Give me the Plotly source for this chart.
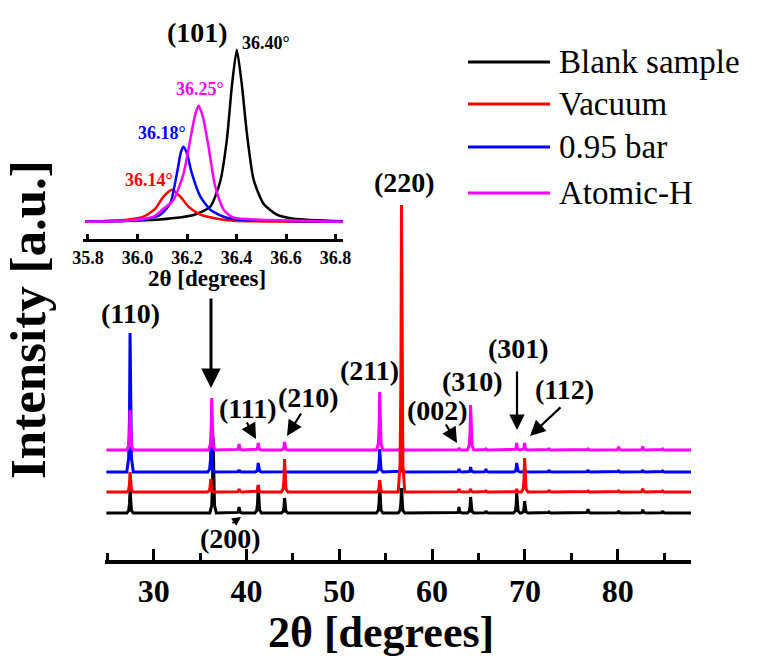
import plotly.graph_objects as go

W, H = 757, 657
FONT = "Liberation Serif"

# ---------------- data ----------------
SERIES = ["Blank sample", "Vacuum", "0.95 bar", "Atomic-H"]
COLORS = ["#000000", "#ff0000", "#0000ff", "#ff00ff"]

# main XRD pattern: peak positions (2theta, deg); the (101) peak position differs per series
PEAK_POS = [27.45, 36.40, 39.2, 41.26, 44.1, 54.35, 56.7, 62.9, 64.15, 65.8,
            69.12, 69.97, 72.6, 76.8, 80.1, 82.7, 84.85]
PEAK_101 = [36.40, 36.14, 36.18, 36.25]

# peak intensities (a.u.) per series, same order as PEAK_POS
I_BLANK = [24, 76, 6, 28, 15, 27, 25, 6, 16, 2, 20, 12, 1, 4, 2, 3.3, 2]
I_VACUUM = [20, 13, 3, 7, 33, 12, 287, 3, 3, 1, 3, 34, 2, 1, 1, 3.3, 1]
I_095BAR = [139, 30, 2, 9, 2, 23, 7, 3, 5, 3, 9, 3, 2, 2, 1, 2, 1]
I_ATOMH = [40, 52, 6, 7, 8, 58, 12, 2, 45, 1, 7, 7, 1, 1, 3.3, 3.5, 1]
INTENS = [I_BLANK, I_VACUUM, I_095BAR, I_ATOMH]
OFFSETS = [47, 68, 88, 110]          # vertical stacking of the patterns
X_START, X_END = 24.9, 87.9

# inset: (101) peak profiles
IN_X_BLANK = [35.79, 35.95, 36.09, 36.227, 36.294, 36.334, 36.361, 36.381, 36.401,
              36.421, 36.442, 36.469, 36.509, 36.563, 36.63, 36.83]
IN_Y_BLANK = [0, 1, 2.3, 6.7, 15, 40, 82, 135, 172, 138, 88, 42, 18, 7, 3, 0.5]
IN_X_VAC = [35.79, 35.957, 36.025, 36.072, 36.105, 36.139, 36.173, 36.206, 36.254,
            36.321, 36.388, 36.83]
IN_Y_VAC = [0, 2, 5, 13, 25, 32, 25, 15, 7, 3, 1, 0]
IN_X_095 = [35.79, 36.025, 36.092, 36.132, 36.159, 36.176, 36.186, 36.2, 36.22,
            36.254, 36.294, 36.348, 36.415, 36.83]
IN_Y_095 = [0, 2, 7, 18, 48, 70, 75, 68, 48, 25, 12, 5, 2, 0]
IN_X_ATH = [35.79, 35.957, 36.065, 36.105, 36.146, 36.186, 36.213, 36.233, 36.247,
            36.264, 36.287, 36.314, 36.348, 36.388, 36.496, 36.83]
IN_Y_ATH = [0, 1, 5, 13, 22, 48, 82, 107, 116, 105, 75, 35, 12, 4, 2, 0]
IN_X = [IN_X_BLANK, IN_X_VAC, IN_X_095, IN_X_ATH]
IN_Y = [IN_Y_BLANK, IN_Y_VAC, IN_Y_095, IN_Y_ATH]
IN_BASE = 17.3
IN_LABELS = ["36.40°", "36.14°", "36.18°", "36.25°"]

MAIN_TICKS = [30, 40, 50, 60, 70, 80]
MAIN_MINOR = [25, 35, 45, 55, 65, 75, 85]
INSET_TICKS = [35.8, 36.0, 36.2, 36.4, 36.6, 36.8]

# peak shape template (style)
PROF_DX = [-0.35, -0.15, -0.06, 0.0, 0.06, 0.15, 0.35]
PROF_F = [0.0, 0.1, 0.4, 1.0, 0.4, 0.1, 0.0]

AXIS_PX = 560   # pixel row of the main plot-area bottom


def P(px, py):
    return px / W, (H - py) / H


def pattern(si):
    pos = list(PEAK_POS)
    pos[1] = PEAK_101[si]
    pk = sorted(zip(pos, INTENS[si]))
    xs, ys = [X_START], [OFFSETS[si]]
    for p, h in pk:
        for dx, f in zip(PROF_DX, PROF_F):
            xs.append(p + dx)
            ys.append(OFFSETS[si] + h * f)
    xs.append(X_END)
    ys.append(OFFSETS[si])
    return xs, ys


fig = go.Figure()

for si in [0, 2, 3, 1]:
    xs, ys = pattern(si)
    fig.add_trace(go.Scatter(x=xs, y=ys, mode="lines", name=SERIES[si],
                             line=dict(color=COLORS[si], width=3),
                             xaxis="x", yaxis="y", showlegend=False))

for si in [0, 1, 2, 3]:
    fig.add_trace(go.Scatter(x=IN_X[si], y=[IN_BASE + v for v in IN_Y[si]],
                             mode="lines", line=dict(color=COLORS[si], width=2.5,
                                                     shape="spline", smoothing=0.6),
                             xaxis="x2", yaxis="y2", showlegend=False))

ann = []


def text(t, px, py, size, color="black", bold=True, xanchor="center", angle=0):
    x, y = P(px, py)
    ann.append(dict(text=t, x=x, y=y, xref="paper", yref="paper", showarrow=False,
                    xanchor=xanchor, yanchor="middle", textangle=angle,
                    font=dict(family=FONT, size=size, color=color,
                              weight="bold" if bold else "normal")))


def arrow(tx, ty, hx, hy, width=2.2, size=1.4):
    x, y = P(hx, hy)
    ann.append(dict(text="", x=x, y=y, xref="paper", yref="paper", showarrow=True,
                    ax=tx - hx, ay=ty - hy, arrowhead=2, arrowsize=size,
                    arrowwidth=width, arrowcolor="black"))


# main peak labels
LBL = 28
text("(110)", 130, 313, LBL)
text("(111)", 248, 408, LBL)
text("(210)", 308, 397, LBL)
text("(211)", 369, 370, LBL)
text("(200)", 230, 538, LBL)
text("(220)", 405, 182, LBL)
text("(002)", 437, 410, LBL)
text("(310)", 472, 381, LBL)
text("(301)", 518, 348, LBL)
text("(112)", 564, 389, LBL)
arrow(211, 297, 211, 388, width=3, size=1.3)
arrow(246, 421, 256, 439)
arrow(302, 412, 287, 436)
arrow(231, 524, 241, 517, width=1.8, size=1.0)
arrow(445, 423, 457, 443)
arrow(517, 370, 517, 430)
arrow(562, 406, 530, 436)

# inset labels
text("(101)", 197, 32, 28)
text(IN_LABELS[0], 266, 43, 18, COLORS[0])
text(IN_LABELS[3], 200, 89, 18, COLORS[3])
text(IN_LABELS[2], 162, 133, 18, COLORS[2])
text(IN_LABELS[1], 149, 180, 18, COLORS[1])
text("2θ [degrees]", 207, 278, 23)

# axis titles
text("2θ [degrees]", 381, 632, 44)
text("Intensity [a.u.]", 28, 320, 51, angle=-90)

# legend
shapes = []
LEG_Y = [62, 104, 147, 193]
for si in range(4):
    x0, y0 = P(468, LEG_Y[si])
    x1, _ = P(550, LEG_Y[si])
    shapes.append(dict(type="line", xref="paper", yref="paper", x0=x0, x1=x1,
                       y0=y0, y1=y0, line=dict(color=COLORS[si], width=3)))
    text(SERIES[si], 557, LEG_Y[si], 33, bold=False, xanchor="left")

fig.update_layout(
    width=W, height=H, margin=dict(l=0, r=0, t=0, b=0, autoexpand=False),
    plot_bgcolor="white", paper_bgcolor="white", showlegend=False,
    annotations=ann, shapes=shapes,
    xaxis=dict(domain=[105 / W, 691 / W], range=[24.75, 87.9], anchor="y",
               automargin=False,
               showline=True, linewidth=4, linecolor="black", mirror=False,
               ticks="inside", ticklen=11, tickwidth=3, tickcolor="black",
               tickvals=MAIN_TICKS, ticktext=[str(v) for v in MAIN_TICKS],
               tickfont=dict(family=FONT, size=32, color="black", weight="bold"),
               minor=dict(ticks="inside", ticklen=7, tickwidth=3, tickcolor="black",
                          tickvals=MAIN_MINOR),
               showgrid=False, zeroline=False),
    yaxis=dict(domain=[(H - AXIS_PX) / H, 1], range=[0, AXIS_PX], visible=False,
               anchor="x", automargin=False),
    xaxis2=dict(domain=[83 / W, 343 / W], range=[35.78, 36.83], anchor="y2",
                automargin=False,
                showline=True, linewidth=3, linecolor="black",
                ticks="inside", ticklen=5, tickwidth=3, tickcolor="black",
                tickvals=INSET_TICKS, ticktext=["%.1f" % v for v in INSET_TICKS],
                tickfont=dict(family=FONT, size=18, color="black", weight="bold"),
                showgrid=False, zeroline=False),
    yaxis2=dict(domain=[(H - 239) / H, (H - 30) / H], range=[0, 209],
                visible=False, anchor="x2", automargin=False),
)

fig.write_html("out.html", config={"displayModeBar": False, "staticPlot": True},
               post_script="document.body.style.margin='0';document.body.style.overflow='hidden';")
